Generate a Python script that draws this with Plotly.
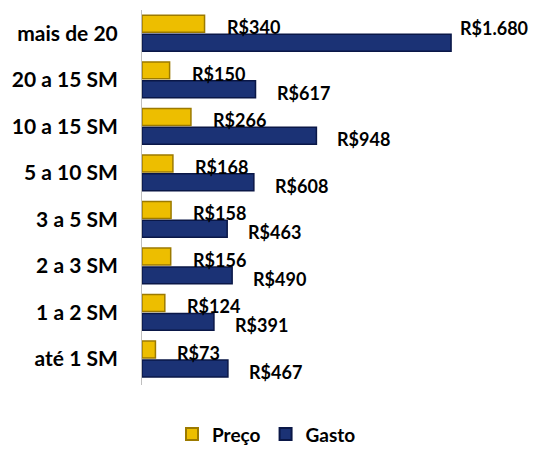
import plotly.graph_objects as go

categorias = ["até 1 SM", "1 a 2 SM", "2 a 3 SM", "3 a 5 SM", "5 a 10 SM",
              "10 a 15 SM", "20 a 15 SM", "mais de 20"]
preco = [73, 124, 156, 158, 168, 266, 150, 340]
gasto = [467, 391, 490, 463, 608, 948, 617, 1680]

COR_PRECO = "#EDBE00"
COR_PRECO_BORDA = "#9C7A00"
COR_GASTO = "#1B3275"
COR_GASTO_BORDA = "#0A1747"

def fmt(v):
    return "R$" + f"{v:,}".replace(",", ".")

fig = go.Figure()
fig.add_trace(go.Bar(
    y=categorias, x=gasto, name="Gasto", orientation="h",
    marker=dict(color=COR_GASTO, line=dict(color=COR_GASTO_BORDA, width=1.5)),
    legendrank=2, hoverinfo="skip",
))
fig.add_trace(go.Bar(
    y=categorias, x=preco, name="Preço", orientation="h",
    marker=dict(color=COR_PRECO, line=dict(color=COR_PRECO_BORDA, width=1.5)),
    legendrank=1, hoverinfo="skip",
))

lab_font = dict(family="Lato", size=18, color="#000000", weight="bold")
gmax = max(gasto)
for c, p, g in zip(categorias, preco, gasto):
    fig.add_annotation(x=p, y=c, text=fmt(p), showarrow=False,
                       xanchor="left", yanchor="middle", xshift=20, yshift=6,
                       font=lab_font)
    if g == gmax:
        fig.add_annotation(x=g, y=c, text=fmt(g), showarrow=False,
                           xanchor="left", yanchor="middle", xshift=7, yshift=5,
                           font=lab_font)
    else:
        fig.add_annotation(x=g, y=c, text=fmt(g), showarrow=False,
                           xanchor="left", yanchor="middle", xshift=19, yshift=-13,
                           font=lab_font)

fig.update_layout(
    width=533, height=450,
    margin=dict(l=142, r=10, t=10, b=65, autoexpand=False),
    paper_bgcolor="white", plot_bgcolor="white",
    barmode="group", bargap=0.19, bargroupgap=0.1,
    showlegend=True,
    legend=dict(orientation="h", xref="container", x=0.5, xanchor="center",
                yref="container", y=0.035, yanchor="middle",
                font=dict(family="Lato", size=19, color="#000000", weight="bold"),
                itemsizing="constant"),
    xaxis=dict(range=[0, 2071], visible=False, showgrid=False, zeroline=False),
    yaxis=dict(showline=True, linecolor="#BFBFBF", linewidth=1, showgrid=False,
               zeroline=False, ticks="", ticklabelstandoff=19, automargin=False,
               tickfont=dict(family="Lato", size=21, color="#000000", weight="bold")),
)

fig.write_html("out.html", config={"displayModeBar": False},
               post_script="document.body.style.margin='0';")
